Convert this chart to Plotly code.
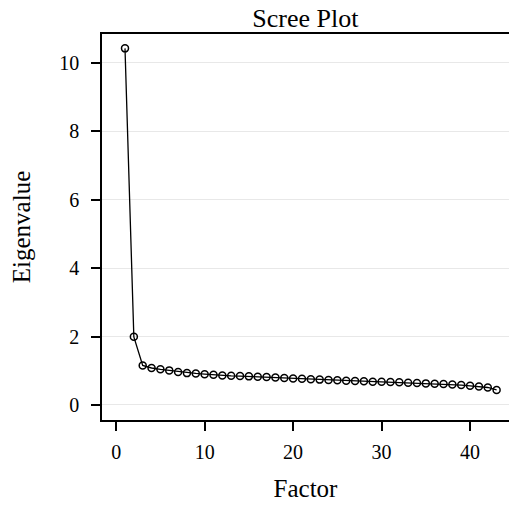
import plotly.graph_objects as go

factors = list(range(1, 44))
eigenvalues = [10.42, 1.99, 1.155, 1.08, 1.04, 1.01, 0.96, 0.93, 0.92, 0.90,
               0.88, 0.86, 0.85, 0.845, 0.835, 0.825, 0.815, 0.80, 0.79, 0.775,
               0.765, 0.75, 0.74, 0.73, 0.72, 0.71, 0.70, 0.69, 0.68, 0.675,
               0.67, 0.66, 0.65, 0.64, 0.63, 0.62, 0.61, 0.60, 0.58, 0.56,
               0.54, 0.51, 0.44]
x_ticks = [0, 10, 20, 30, 40]
y_ticks = [0, 2, 4, 6, 8, 10]

FONT = "Liberation Serif, Times New Roman, serif"

fig = go.Figure(go.Scatter(
    x=factors, y=eigenvalues, mode="lines+markers",
    line=dict(color="black", width=1.3),
    marker=dict(symbol="circle-open", size=7, color="black", line=dict(width=1.5)),
    showlegend=False, cliponaxis=False,
))

fig.update_layout(
    width=509, height=510,
    margin=dict(l=102, r=0, t=34, b=90),
    paper_bgcolor="white", plot_bgcolor="white",
    font=dict(family=FONT, color="black"),
    title=dict(text="Scree Plot", x=0.6, xanchor="center", y=0.947, yanchor="bottom",
               font=dict(size=26, family=FONT, color="black")),
    xaxis=dict(
        range=[-1.6, 44.4], tickvals=x_ticks, ticks="outside", ticklen=9, tickwidth=1.5,
        tickcolor="black", showline=True, linecolor="black", linewidth=1.5, mirror=True,
        showgrid=False, zeroline=False, tickfont=dict(size=20), automargin=False,
        ticklabelstandoff=4,
        title=dict(text="Factor", font=dict(size=25), standoff=18),
    ),
    yaxis=dict(
        range=[-0.44, 10.84], tickvals=y_ticks, ticks="outside", ticklen=9, tickwidth=1.5,
        tickcolor="black", showline=True, linecolor="black", linewidth=1.5,
        showgrid=True, gridcolor="#e8e8e8", gridwidth=1.2, zeroline=False,
        tickfont=dict(size=20), automargin=False, ticklabelstandoff=8,
        title=dict(text="Eigenvalue", font=dict(size=25), standoff=22),
    ),
)

fig.write_html("out.html", config={"displayModeBar": False},
               post_script="document.body.style.margin='0px';")
